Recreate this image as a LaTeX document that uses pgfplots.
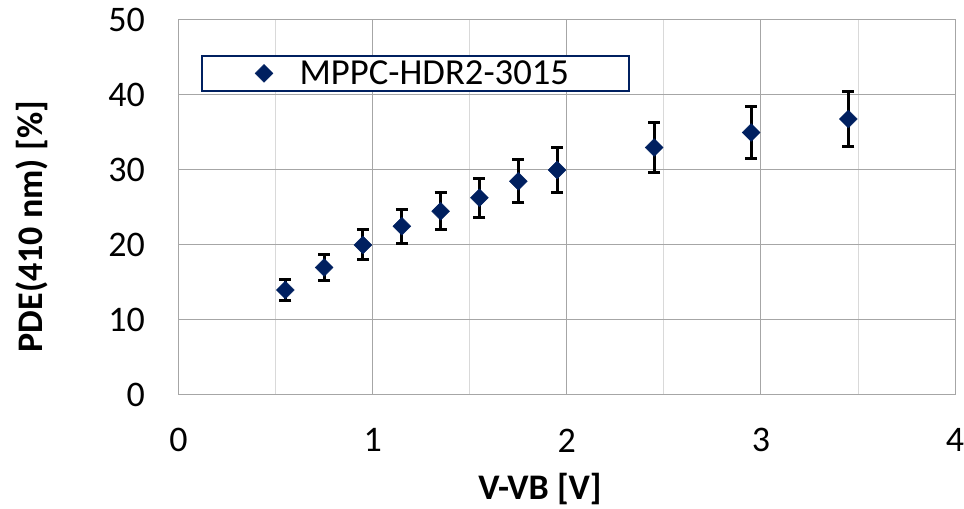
\documentclass[border=0pt]{standalone}
\usepackage{fontspec}
\setmainfont{Carlito}
\usepackage{pgfplots}
\pgfplotsset{compat=1.18}
\definecolor{navy}{HTML}{002060}
\definecolor{majgrid}{HTML}{A6A6A6}
\definecolor{mingrid}{HTML}{D9D9D9}
\begin{document}
\begin{tikzpicture}
\useasboundingbox (0,0) rectangle (723pt,381.75pt);
\begin{axis}[
  at={(133.9pt,85.5pt)}, anchor=south west,
  scale only axis, width=582.4pt, height=281.25pt,
  xmin=0, xmax=4, ymin=0, ymax=50,
  xtick={0,1,2,3,4}, minor xtick={0.5,1.5,2.5,3.5},
  ytick={0,10,20,30,40,50},
  grid=both,
  major grid style={majgrid, line width=0.75pt},
  minor grid style={mingrid, line width=0.75pt},
  axis line style={majgrid, line width=0.75pt},
  tick style={draw=none},
  font=\fontsize{27}{32}\selectfont,
  /pgf/number format/assume math mode=true,
  xticklabel style={anchor=center, yshift=-34pt},
  yticklabel style={anchor=east, inner sep=0pt, xshift=-25pt},
  xlabel={\textbf{V-VB [V]}},
  xlabel style={at={(axis description cs:0.4655,-0.2507)}, anchor=center},
  ylabel={\textbf{PDE(410 nm) [\%]}},
  ylabel style={at={(axis description cs:-0.1887,0.449)}, anchor=center},
  legend style={at={(0.029,0.9067)}, anchor=north west, draw=navy, line width=1.2pt,
    fill=white, inner xsep=40pt, inner ysep=0pt, nodes={inner xsep=5pt, inner ysep=3.5pt},
    font=\fontsize{27.5}{32}\selectfont},
  legend image post style={xshift=12pt},
  legend cell align=left,
]
\addplot[only marks, mark=square*, mark size=4.7pt,
  mark options={rotate=45, fill=navy, draw=navy, line width=0.4pt},
  error bars/.cd, y dir=both, y explicit,
  error bar style={black, line width=2.25pt},
  error mark options={black, line width=2.25pt, mark size=4.5pt, rotate=90}]
  table[x=x, y=y, y error=e] {
x y e
0.55 14.0 1.4
0.75 17.0 1.7
0.95 20.0 2.0
1.15 22.5 2.25
1.35 24.5 2.45
1.55 26.3 2.63
1.75 28.5 2.85
1.95 30.0 3.0
2.45 33.0 3.3
2.95 35.0 3.5
3.45 36.8 3.68
};
\addlegendentry{\hspace*{15pt}MPPC-HDR2-3015}
\end{axis}
\end{tikzpicture}
\end{document}
